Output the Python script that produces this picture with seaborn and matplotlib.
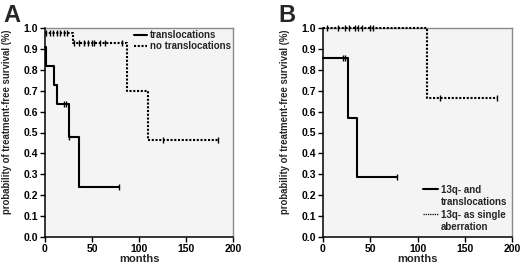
import numpy as np
import pandas as pd
import matplotlib
matplotlib.use("Agg")
import matplotlib.pyplot as plt
from matplotlib.lines import Line2D
import seaborn as sns

# ---------------- data ----------------
# Panel A: translocations
a_trans_t = [0, 1, 10, 13, 26, 36, 79]
a_trans_s = [0.909, 0.818, 0.727, 0.636, 0.477, 0.239, 0.239]
a_trans_cens_t = [20, 22.5, 25.5, 79]
a_trans_cens_s = [0.636, 0.636, 0.477, 0.239]

# Panel A: no translocations
a_notr_t = [0, 30, 87, 110, 184]
a_notr_s = [0.978, 0.93, 0.70, 0.465, 0.465]
a_notr_cens_t = [1, 5.5, 9, 12.5, 16, 20, 23,
                 31, 36, 41, 46, 50, 52, 58, 64, 82,
                 125, 184]
a_notr_cens_s = [0.978] * 7 + [0.93] * 9 + [0.465] * 2

# Panel B: 13q- and translocations
b_trans_t = [0, 26, 36, 78]
b_trans_s = [0.857, 0.571, 0.286, 0.286]
b_trans_cens_t = [21, 23.5, 78]
b_trans_cens_s = [0.857, 0.857, 0.286]

# Panel B: 13q- as single aberration
b_single_t = [0, 110, 184]
b_single_s = [1.0, 0.667, 0.667]
b_single_cens_t = [4, 16, 23, 27, 34, 37, 41, 50, 53, 124, 184]
b_single_cens_s = [1.0] * 9 + [0.667] * 2

a_labels = ["translocations", "no translocations"]
b_labels = ["13q- and", "translocations", "13q- as single", "aberration"]
panel_letters = ["A", "B"]
x_ticks = [0, 50, 100, 150, 200]
y_ticks = [0.0, 0.1, 0.2, 0.3, 0.4, 0.5, 0.6, 0.7, 0.8, 0.9, 1.0]
x_label = "months"
y_label = "probability of treatment-free survival (%)"

# ---------------- style ----------------
sns.set_style("white")
plt.rcParams['font.family'] = ['Liberation Sans', 'DejaVu Sans']
plt.rcParams['font.weight'] = 'bold'

fig = plt.figure(figsize=(5.2, 2.68), dpi=100)
W, H = 520, 268
axA = fig.add_axes([45 / W, (H - 237) / H, (233 - 45) / W, (237 - 28) / H])
axB = fig.add_axes([323 / W, (H - 237) / H, (512 - 323) / W, (237 - 28) / H])

LW = 1.5
DOT = (0, (1, 0.8))


def curve(ax, t, s, ct, cs, ls):
    df = pd.DataFrame({"t": t, "s": s})
    sns.lineplot(data=df, x="t", y="s", ax=ax, drawstyle="steps-post",
                 estimator=None, color="black", linewidth=LW, linestyle=ls,
                 legend=False, clip_on=False, zorder=4)
    cdf = pd.DataFrame({"t": ct, "s": cs})
    sns.scatterplot(data=cdf, x="t", y="s", ax=ax, marker="|", s=22,
                    linewidth=1.0, color="black", legend=False, zorder=5,
                    clip_on=False)


curve(axA, a_trans_t, a_trans_s, a_trans_cens_t, a_trans_cens_s, "-")
curve(axA, a_notr_t, a_notr_s, a_notr_cens_t, a_notr_cens_s, DOT)
curve(axB, b_trans_t, b_trans_s, b_trans_cens_t, b_trans_cens_s, "-")
curve(axB, b_single_t, b_single_s, b_single_cens_t, b_single_cens_s, DOT)

for ax in [axA, axB]:
    ax.set_facecolor("#f4f4f4")
    ax.set_xlim(0, 200)
    ax.set_ylim(0, 1.0)
    ax.set_xticks(x_ticks)
    ax.set_yticks(y_ticks)
    ax.set_xticklabels([str(v) for v in x_ticks], fontsize=7.5, fontweight='bold')
    ax.set_yticklabels([f"{v:.1f}" for v in y_ticks], fontsize=7.5, fontweight='bold')
    ax.tick_params(axis='both', direction='out', length=3.5, width=1.0,
                   colors='black', pad=1.5, left=True, bottom=True)
    ax.set_xlabel(x_label, fontsize=8, fontweight='bold', labelpad=0)
    ax.set_ylabel(y_label, fontsize=6.9, fontweight='bold')
    ax.yaxis.set_label_coords(-0.175, 0.55)
    for side in ["left", "bottom"]:
        ax.spines[side].set_color("black")
        ax.spines[side].set_linewidth(1.1)
        ax.spines[side].set_zorder(6)
    for side in ["top", "right"]:
        ax.spines[side].set_visible(True)
        ax.spines[side].set_color("#8a8a8a")
        ax.spines[side].set_linewidth(1.0)
        ax.spines[side].set_zorder(1)

fig.text(3 / W, 1 - 22 / H, panel_letters[0], fontsize=17, fontweight='bold')
fig.text(278 / W, 1 - 22 / H, panel_letters[1], fontsize=17, fontweight='bold')

hA = [Line2D([], [], color='black', lw=LW, ls='-'),
      Line2D([], [], color='black', lw=LW, ls=DOT)]
axA.legend(hA, a_labels, loc='upper right', frameon=False,
           prop={'weight': 'bold', 'size': 7}, handlelength=1.4,
           handletextpad=0.3, borderaxespad=0.1, borderpad=0.1,
           labelspacing=0.15)

hB = [Line2D([], [], color='black', lw=LW, ls='-'),
      Line2D([], [], color='none', lw=0),
      Line2D([], [], color='black', lw=0.9, ls=DOT),
      Line2D([], [], color='none', lw=0)]
axB.legend(hB, b_labels, loc='lower right', frameon=False,
           prop={'weight': 'bold', 'size': 7}, handlelength=1.5,
           handletextpad=0.3, borderaxespad=0.1, borderpad=0.4,
           labelspacing=0.25)

fig.savefig("out.png", dpi=100)
